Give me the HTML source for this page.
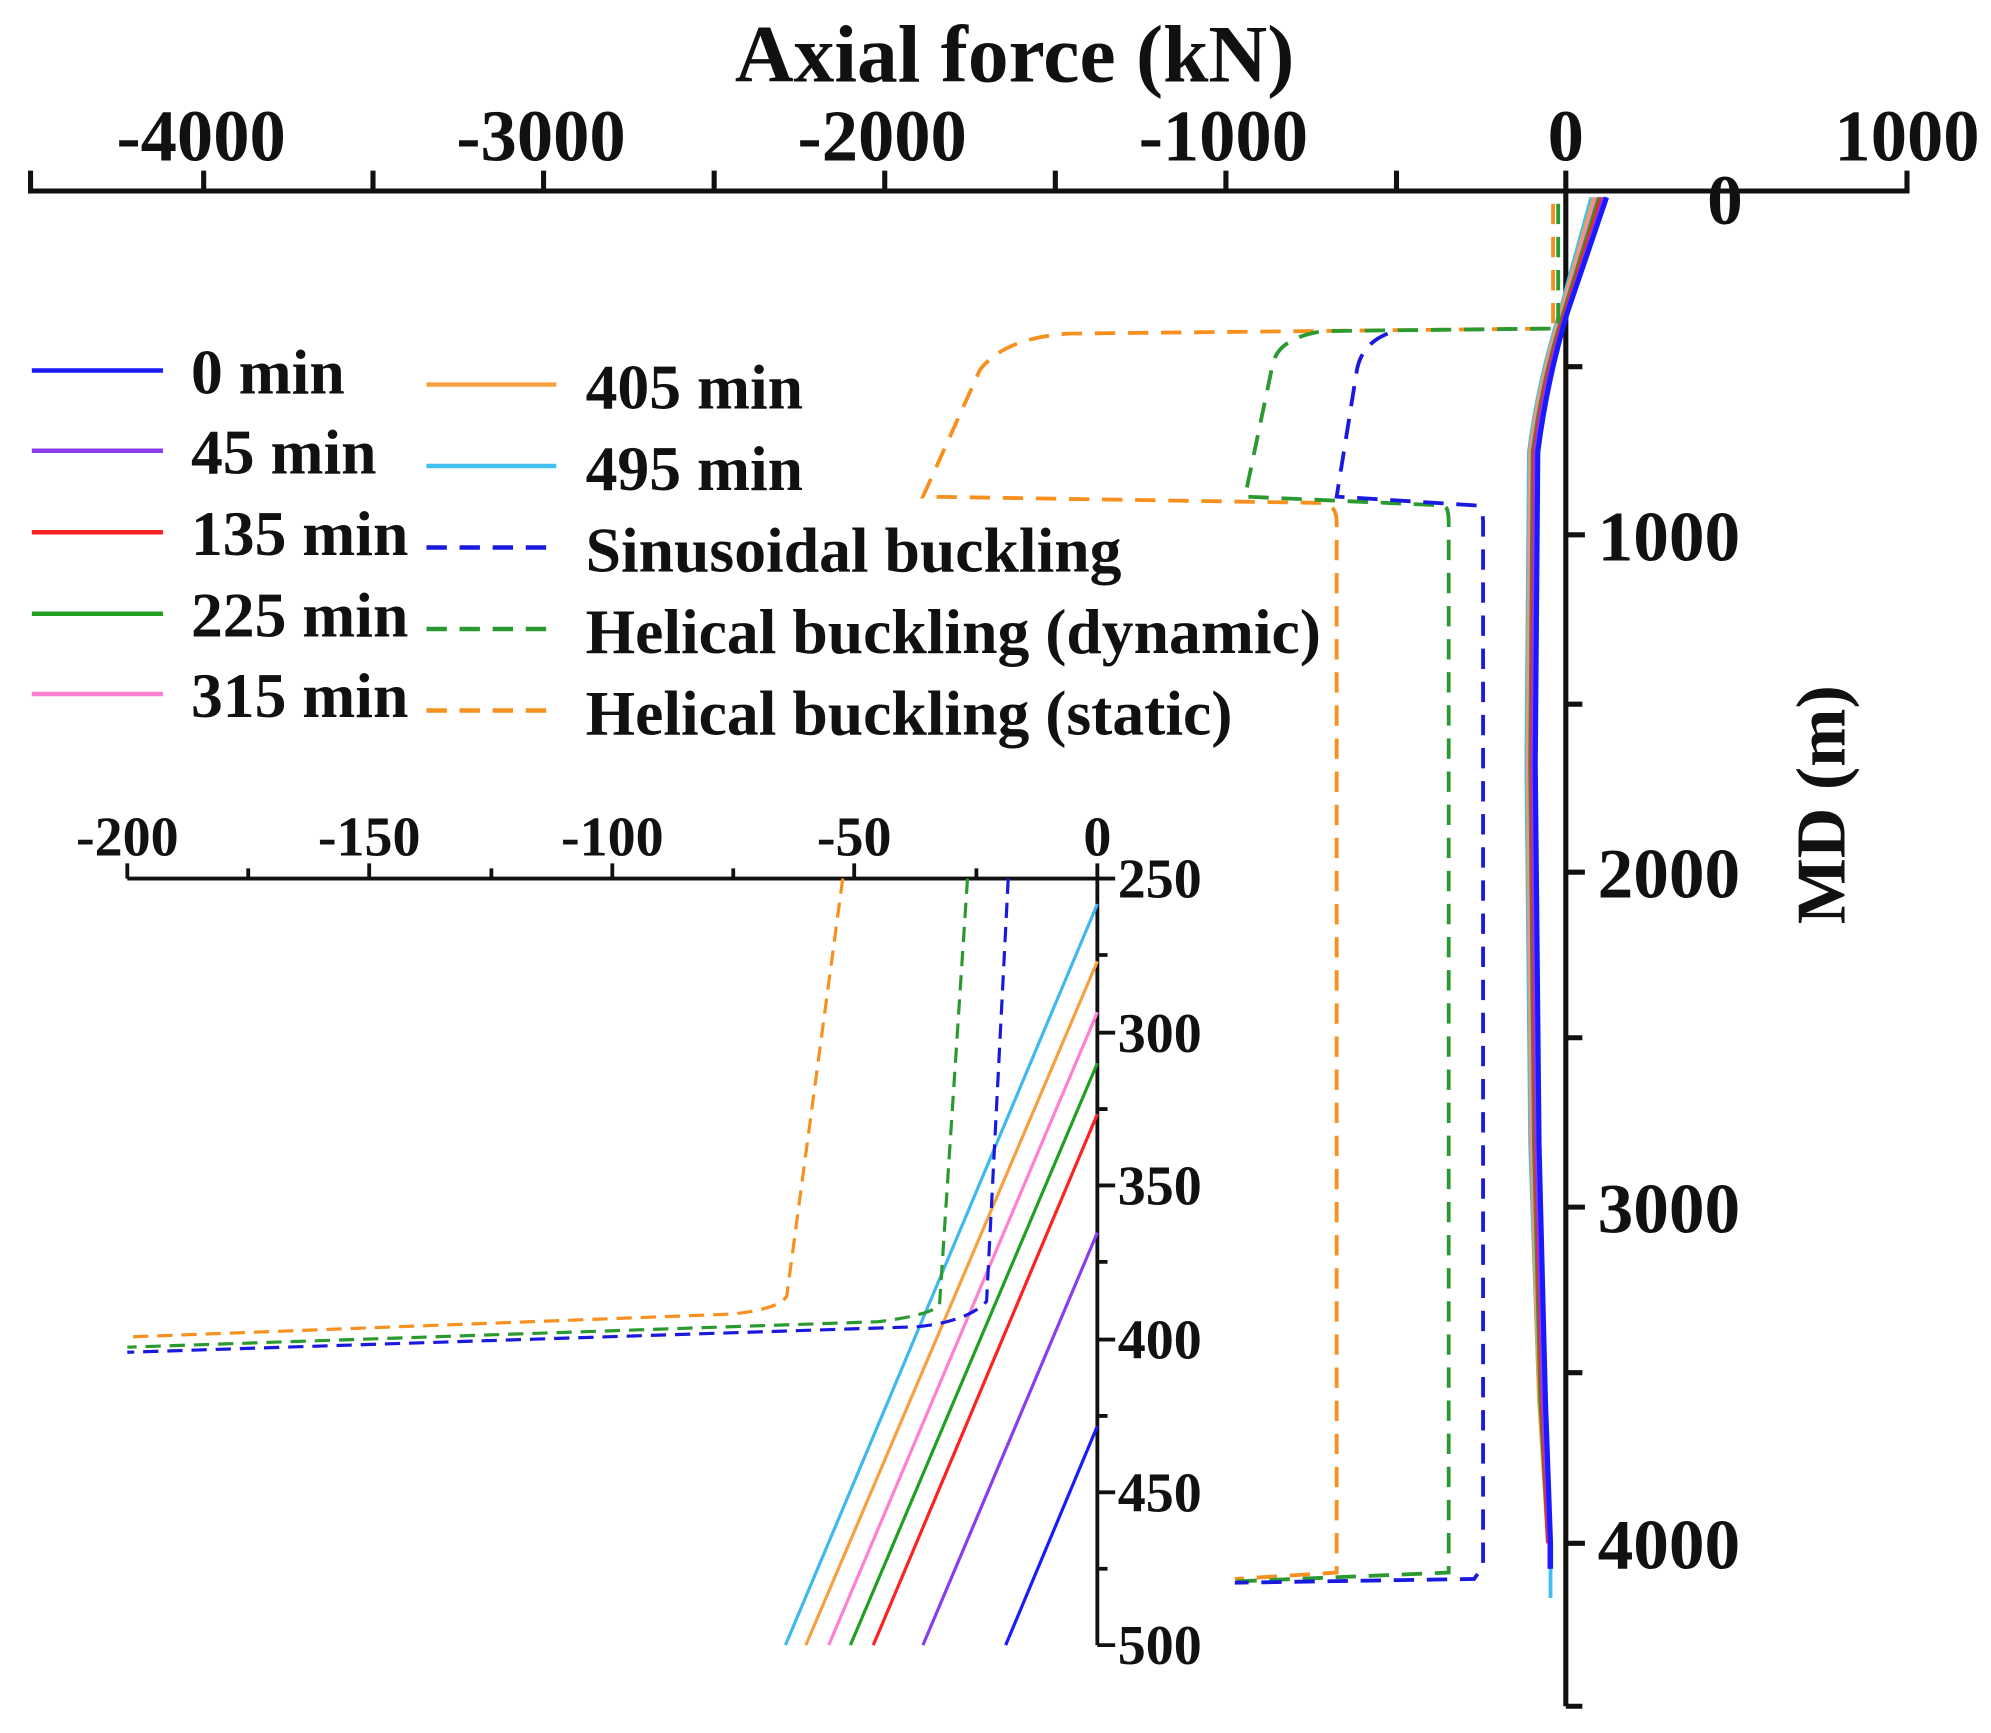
<!DOCTYPE html>
<html><head><meta charset="utf-8"><style>
html,body{margin:0;padding:0;background:#fff;}
svg{display:block;}
text{font-family:"Liberation Serif",serif;font-weight:bold;fill:#111;}
</style></head><body>
<svg width="1991" height="1733" viewBox="0 0 1564 1361" preserveAspectRatio="none" xmlns="http://www.w3.org/2000/svg">
<text x="797" y="64" font-size="64" text-anchor="middle">Axial force  (kN)</text>
<g stroke="#111" stroke-width="4" fill="none">
<line x1="22" y1="150" x2="1500" y2="150"/>
<path d="M24 150V134 M160 150V134 M293 150V134 M427 150V134 M561 150V134 M695 150V134 M829 150V134 M963 150V134 M1097 150V134 M1230 150V134 M1498 150V134"/>
<line x1="1230" y1="150" x2="1230" y2="1340"/>
<path d="M1230 288H1243 M1230 420H1245 M1230 553H1243 M1230 685H1245 M1230 815H1243 M1230 948H1245 M1230 1078H1243 M1230 1212H1245 M1230 1340H1243"/>
</g>
<g font-size="57" text-anchor="middle">
<text x="158" y="126">-4000</text><text x="425" y="126">-3000</text><text x="693" y="126">-2000</text>
<text x="961" y="126">-1000</text><text x="1230" y="126">0</text><text x="1498" y="126">1000</text>
</g>
<g font-size="56">
<text x="1341" y="176">0</text>
<text x="1255" y="440">1000</text><text x="1255" y="705">2000</text>
<text x="1255" y="968">3000</text><text x="1255" y="1232">4000</text>
</g>
<text font-size="55" transform="translate(1449,632) rotate(-90)" text-anchor="middle">MD (m)</text>

<g fill="none" stroke-width="3">
<path stroke="#40c0f0" d="M1250 155L1225 246Q1208 300 1201 355L1199 600L1202 900L1209 1100L1218 1212L1218 1255"/>
<path stroke="#f7a040" d="M1252 155L1226 246Q1209 300 1202 355L1200 600L1203 900L1209 1100L1216 1212"/>
<path stroke="#ff80d0" d="M1254 155L1227 246Q1210 300 1203 355L1201 600L1204 900L1210 1100L1216 1212"/>
<path stroke="#20a020" d="M1256 155L1228 246Q1211 300 1204 355L1202 600L1205 900L1210 1100L1216 1212"/>
<path stroke="#ff2020" d="M1258 155L1229 246Q1212 300 1205 355L1203 600L1206 900L1211 1100L1216 1212"/>
<path stroke="#8a3cf0" d="M1260 155L1230 246Q1213 300 1206 355L1204 600L1207 900L1212 1100L1217 1212L1217 1232"/>
<path stroke="#1a1aff" stroke-width="4" d="M1262 155L1231 246Q1215 300 1208 355L1206 600L1209 900L1214 1100L1218 1212L1218 1232"/>
</g>
<g fill="none" stroke-width="3" stroke-dasharray="16,10">
<path stroke="#f7901e" d="M1220 160V258L840 262Q790 265 770 290L725 390L1040 395Q1050 397 1050 410V1235L970 1240"/>
<path stroke="#2a9a30" d="M1224 160V258L1040 260Q1005 265 1000 285L978 390L1135 397Q1138 400 1138 410V1235L970 1242"/>
<path stroke="#1a1adf" d="M1090 262Q1070 270 1066 290L1050 390L1160 397Q1165 400 1165 410V1230L1158 1240L970 1243"/>
</g>

<g stroke-width="3.5">
<line x1="25" y1="291" x2="128" y2="291" stroke="#1a1aff"/>
<line x1="25" y1="354" x2="128" y2="354" stroke="#8a3cf0"/>
<line x1="25" y1="418" x2="128" y2="418" stroke="#ff2020"/>
<line x1="25" y1="482" x2="128" y2="482" stroke="#20a020"/>
<line x1="25" y1="545" x2="128" y2="545" stroke="#ff80d0"/>
<line x1="335" y1="302" x2="437" y2="302" stroke="#f7a040"/>
<line x1="335" y1="366" x2="437" y2="366" stroke="#40c0f0"/>
<line x1="335" y1="430" x2="437" y2="430" stroke="#1a1adf" stroke-dasharray="16,10"/>
<line x1="335" y1="494" x2="437" y2="494" stroke="#2a9a30" stroke-dasharray="16,10"/>
<line x1="335" y1="558" x2="437" y2="558" stroke="#f7901e" stroke-dasharray="16,10"/>
</g>
<g font-size="50">
<text x="150" y="309">0 min</text><text x="150" y="372">45 min</text><text x="150" y="436">135 min</text>
<text x="150" y="500">225 min</text><text x="150" y="563">315 min</text>
<text x="460" y="321">405 min</text><text x="460" y="385">495 min</text>
<text x="460" y="449">Sinusoidal buckling</text><text x="460" y="513">Helical buckling (dynamic)</text>
<text x="460" y="577">Helical buckling (static)</text>
</g>

<g stroke="#111" stroke-width="3" fill="none">
<line x1="100" y1="690" x2="862" y2="690"/>
<path d="M100 690V678 M195 690V682 M290 690V678 M386 690V682 M481 690V678 M576 690V682 M671 690V678 M767 690V682 M862 690V678"/>
<line x1="862" y1="690" x2="862" y2="1292"/>
<path d="M862 690H876 M862 750H870 M862 811H876 M862 871H870 M862 931H876 M862 991H870 M862 1052H876 M862 1112H870 M862 1172H876 M862 1232H870 M862 1292H876"/>
</g>
<g font-size="44" text-anchor="middle">
<text x="100" y="672">-200</text><text x="290" y="672">-150</text><text x="481" y="672">-100</text>
<text x="671" y="672">-50</text><text x="862" y="672">0</text>
</g>
<g font-size="44">
<text x="878" y="705">250</text><text x="878" y="826">300</text><text x="878" y="946">350</text>
<text x="878" y="1067">400</text><text x="878" y="1187">450</text><text x="878" y="1307">500</text>
</g>
<g stroke-width="2.5" fill="none">
<line x1="862" y1="710" x2="617" y2="1292" stroke="#40b8ee"/>
<line x1="862" y1="755" x2="633" y2="1292" stroke="#f7a040"/>
<line x1="862" y1="795" x2="651" y2="1292" stroke="#ff80d0"/>
<line x1="862" y1="835" x2="668" y2="1292" stroke="#20a020"/>
<line x1="862" y1="875" x2="686" y2="1292" stroke="#ff2020"/>
<line x1="862" y1="968" x2="725" y2="1292" stroke="#8a3cf0"/>
<line x1="862" y1="1120" x2="790" y2="1292" stroke="#1a1aff"/>
</g>
<g fill="none" stroke-width="2.5" stroke-dasharray="12,7">
<path stroke="#f7901e" d="M662 690L618 1018Q612 1028 575 1032L100 1050"/>
<path stroke="#2a9a30" d="M760 690L738 1025Q730 1033 690 1038L100 1058"/>
<path stroke="#1a1adf" d="M792 690L775 1022Q760 1038 720 1042L100 1062"/>
</g>
</svg>
</body></html>
